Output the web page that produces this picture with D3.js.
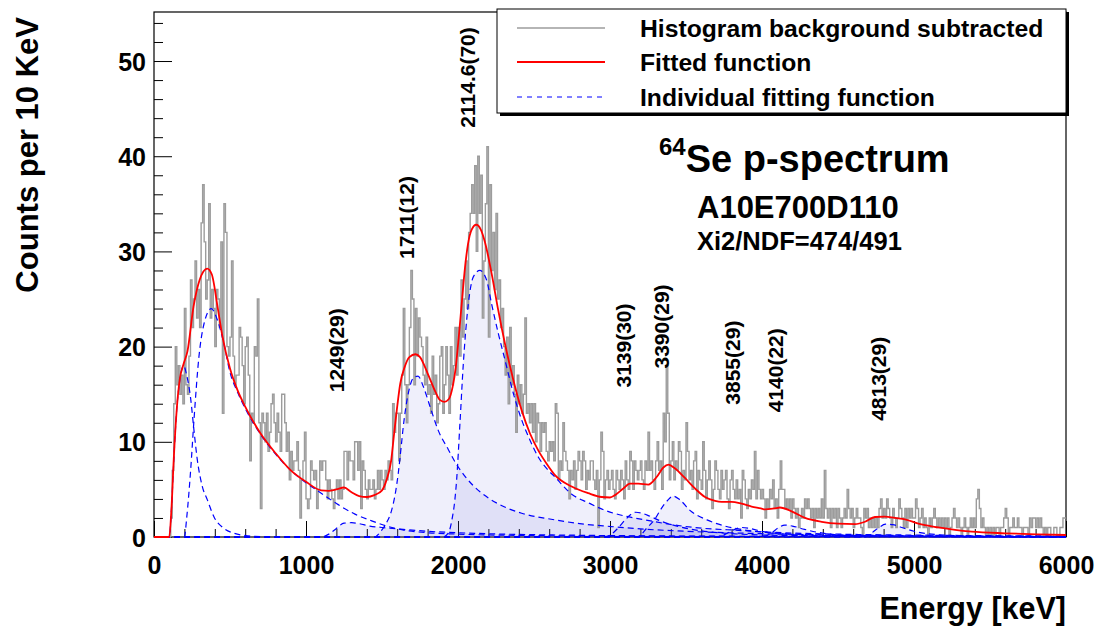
<!DOCTYPE html>
<html>
<head>
<meta charset="utf-8">
<script src="https://cdn.jsdelivr.net/npm/d3@7/dist/d3.min.js"></script>
<style>
  body { margin: 0; background: #fff; }
  svg { display: block; }
  text { font-family: "Liberation Sans", Arial, Helvetica, sans-serif; font-weight: bold; fill: #000; }
</style>
</head>
<body>
<svg id="chart" width="1100" height="626"></svg>
<script>
// ---------------- data ----------------
const binWidth = 10;           // keV per bin
const energyRange = [0, 6000]; // keV
const countRange = [0, 55.15];

// background-subtracted proton spectrum, counts per 10 keV bin (0 .. 6000 keV)
const counts = [
  0,0,0,0,0,0,0,0,0,0, 0,2,7,14,20,16,18,15,17,14, 24,16,15,19,27,22,25,29,23,26, 22,33,37,31,25,27,35,23,26,24, 20,26,25,22,31,13,35,32,20,19,
  21,29,19,16,17,17,22,21,18,14, 20,21,17,8,13,12,20,19,25,12, 3,13,12,10,13,9,11,14,15,12, 10,13,11,9,15,15,12,9,11,6, 9,7,8,8,10,7,2,6,8,11,
  4,3,4,8,7,6,7,3,5,8, 7,8,8,6,4,6,5,4,3,5, 6,4,6,4,5,9,9,6,9,8, 8,6,10,10,7,10,3,8,7,5, 4,6,5,5,6,4,5,7,5,7,
  6,5,7,6,8,7,6,14,11,13, 13,8,13,17,24,16,12,16,22,28, 25,16,24,19,23,21,20,17,16,21, 15,16,13,19,15,17,12,14,19,20, 13,16,20,17,13,20,16,18,22,17,
  22,19,27,21,25,29,24,32,34,37, 34,39,30,40,34,38,23,29,35,41, 21,37,28,32,26,34,25,27,22,24, 20,17,21,14,22,16,18,15,11,17, 14,16,13,15,23,13,14,12,14,11,
  14,10,13,12,9,12,11,12,9,8, 10,9,10,8,14,13,6,8,7,12, 9,8,7,4,7,6,8,5,7,9, 8,6,9,8,5,7,6,8,8,6, 5,7,1,6,11,9,4,6,7,5,
  6,7,5,4,7,6,5,7,6,4, 8,6,5,9,8,5,8,7,6,7, 8,6,5,8,7,11,7,8,6,5, 8,10,7,8,5,13,10,18,13,6, 8,10,6,8,7,10,9,5,7,6,
  12,9,6,7,5,8,9,4,7,6, 5,10,7,4,6,8,6,3,5,8, 7,5,4,7,5,6,7,4,3,6, 7,5,4,6,4,5,2,7,6,4, 3,5,4,6,5,9,4,7,5,4,
  5,4,2,4,3,5,4,6,3,4, 2,5,8,5,5,3,4,3,4,2, 4,3,2,3,1,2,3,2,4,3, 4,3,2,3,1,3,2,3,2,4, 2,7,3,2,3,1,3,2,3,1,
  3,2,1,2,3,2,5,3,2,3, 1,2,3,2,2,1,0,3,2,3, 1,2,1,2,1,2,1,3,4,2, 3,2,4,3,2,1,3,2,1,2, 4,3,2,1,3,1,3,2,3,2,
  2,4,3,1,2,3,1,2,1,0, 2,1,2,3,2,1,2,1,2,1, 2,1,2,0,1,2,3,2,1,2, 1,0,1,2,1,0,1,2,1,2, 1,4,5,3,1,2,1,0,1,0,
  1,0,1,0,1,1,0,1,1,2, 3,2,0,1,1,2,1,1,2,1, 1,0,1,1,1,0,2,1,2,2, 1,2,1,2,1,0,1,0,1,1, 0,0,1,1,0,0,1,1,2,2
];

// total fitted function, [energy keV, counts]
const fitTotal = [
  [0,0],[100,0],[115,3],[130,8.2],[150,13.5],[170,16.6],[195,18.2],[220,19.5],[260,24.2],[300,27],[350,28.2],
  [380,27.6],[420,24],[450,21.1],[500,17.7],[550,15.4],[600,13.7],[700,10.9],[800,8.8],[900,7.0],[1000,5.8],
  [1100,4.9],[1150,4.85],[1200,5.0],[1250,5.2],[1300,4.7],[1350,4.3],[1400,4.2],[1450,4.4],[1500,4.9],[1530,6],
  [1560,8],[1580,10.9],[1600,13.7],[1620,16.1],[1650,17.9],[1680,18.9],[1720,19.2],[1750,18.9],[1800,17.2],
  [1850,15.3],[1880,14.4],[1910,14.2],[1940,14.5],[1965,15.8],[1985,17.8],[2005,21],[2026,24.8],[2046,28.3],
  [2066,30.8],[2090,32.3],[2120,32.8],[2150,32.3],[2177,31],[2221,27.7],[2265,23.8],[2309,20.3],[2364,16.5],
  [2419,13.3],[2473,10.9],[2528,9.1],[2583,7.7],[2638,6.5],[2748,5.3],[2857,4.6],[2945,4.2],[3000,4.15],
  [3033,4.4],[3088,5.1],[3131,5.6],[3186,5.6],[3252,5.5],[3307,6.3],[3351,7.3],[3384,7.6],[3428,7.2],
  [3493,6.2],[3559,5.1],[3625,4.2],[3691,3.8],[3735,3.7],[3800,3.7],[3866,3.5],[3932,3.2],[3993,3.0],
  [4020,2.9],[4080,3.0],[4118,3.1],[4195,2.7],[4283,2.0],[4393,1.6],[4502,1.4],[4612,1.35],[4678,1.6],
  [4743,2.1],[4809,2.15],[4875,2.0],[4941,1.86],[5029,1.4],[5160,1.0],[5270,0.74],[5380,0.56],[5599,0.39],
  [5818,0.28],[6000,0.21]
];

// individual fit components, [energy keV, counts]
const compLowA = [[0,0],[100,0],[115,3],[130,8],[150,13.5],[170,16.5],[195,18],[215,17],[240,14.7],[263,11.2],
  [285,8.1],[318,5.3],[351,3.9],[395,2.1],[460,0.9],[526,0.4],[600,0.15],[700,0.05],[1000,0.01],[6000,0]];
const compLowB = [[0,0],[200,0],[215,2],[241,7],[263,12.3],[296,19],[329,22.4],[377,24],[417,22.8],[460,20.3],
  [500,17.3],[550,15.2],[600,13.5],[700,10.8],[800,8.7],[900,7.0],[1000,5.7],[1100,4.6],[1212,3.4],[1322,2.4],
  [1432,1.7],[1541,1.1],[1651,0.7],[1800,0.45],[2000,0.3],[2500,0.15],[3000,0.1],[4000,0.05],[6000,0.02]];
const comp1249 = [[0,0],[1100,0],[1150,0.3],[1200,0.9],[1250,1.45],[1300,1.5],[1350,1.4],[1420,1.15],[1500,1.0],
  [1640,0.8],[1800,0.6],[2000,0.45],[2300,0.3],[2700,0.2],[3500,0.1],[6000,0.02]];
const comp1711 = [[0,0],[1450,0],[1497,0.7],[1530,1.5],[1563,2.8],[1590,4.8],[1607,6.7],[1625,9.3],[1640,11.6],
  [1673,15.1],[1706,16.7],[1737,16.9],[1772,15.8],[1816,13.7],[1870,11.2],[1936,9.2],[1980,7.9],[2050,6.3],
  [2100,5.4],[2200,4.1],[2300,3.2],[2419,2.5],[2638,1.8],[2800,1.4],[3006,1.1],[3200,0.85],[3500,0.6],
  [4000,0.35],[5000,0.15],[6000,0.07]];
const comp2114 = [[0,0],[1900,0],[1936,0.4],[1960,1.8],[1980,4],[1991,6],[2013,12],[2035,18.2],[2068,24.5],
  [2100,27.3],[2144,28],[2188,27],[2221,24.5],[2265,21.4],[2309,18.6],[2364,15.1],[2419,12.3],[2473,10.2],
  [2528,8.4],[2583,7.2],[2638,6.3],[2748,4.5],[2857,3.6],[2967,2.8],[3099,2.2],[3230,1.8],[3406,1.3],
  [3625,0.9],[3844,0.7],[4000,0.55],[4500,0.3],[5000,0.2],[6000,0.1]];
const comp3139 = [[0,0],[2950,0],[3000,0.2],[3050,0.9],[3100,1.8],[3140,2.4],[3170,2.6],[3210,2.5],[3260,2.2],
  [3330,1.7],[3450,1.1],[3600,0.65],[3800,0.35],[4200,0.15],[6000,0.02]];
const comp3390 = [[0,0],[3180,0],[3240,0.9],[3300,2.0],[3330,2.8],[3382,3.9],[3415,4.3],[3460,3.9],[3526,2.8],
  [3638,1.8],[3745,1.2],[3900,0.7],[4100,0.4],[4400,0.2],[5000,0.08],[6000,0.02]];
const comp3855 = [[0,0],[3700,0],[3760,0.3],[3820,0.8],[3870,1.0],[3920,0.9],[4000,0.6],[4150,0.3],[4400,0.12],[6000,0.01]];
const comp4140 = [[0,0],[4000,0],[4060,0.4],[4110,1.0],[4150,1.25],[4200,1.15],[4280,0.8],[4400,0.4],[4600,0.15],[6000,0.01]];
const comp4813 = [[0,0],[4680,0],[4720,0.4],[4770,1.0],[4813,1.35],[4860,1.3],[4920,1.0],[5000,0.6],[5150,0.25],[5400,0.08],[6000,0.01]];

const openComponents = [compLowA, compLowB];
const shadedComponents = [comp1249, comp1711, comp2114, comp3139, comp3390, comp3855, comp4140, comp4813];

// peak annotations: label text, energy (keV) and height (counts) where the text starts
const peakLabels = ["1249(29)", "1711(12)", "2114.6(70)", "3139(30)", "3390(29)", "3855(29)", "4140(22)", "4813(29)"];
const peakLabelEnergy = [1249, 1711, 2114.6, 3139, 3390, 3855, 4140, 4813];
const peakLabelHeight = [15.2, 29.2, 43.0, 15.7, 17.7, 13.9, 13.1, 12.2];

const xMajorTicks = [0, 1000, 2000, 3000, 4000, 5000, 6000];
const yMajorTicks = [0, 10, 20, 30, 40, 50];

const legendItems = ["Histogram background subtracted", "Fitted function", "Individual fitting function"];

// ---------------- layout ----------------
const frame = { left: 154, right: 1066, top: 12, bottom: 537 };
const svg = d3.select("#chart");

const x = d3.scaleLinear().domain(energyRange).range([frame.left, frame.right]);
const y = d3.scaleLinear().domain(countRange).range([frame.bottom, frame.top]);

// frame (drawn first so curves lying on zero stay visible over the axis line)
svg.append("rect")
  .attr("x", frame.left).attr("y", frame.top)
  .attr("width", frame.right - frame.left).attr("height", frame.bottom - frame.top)
  .attr("fill", "none").attr("stroke", "#000").attr("stroke-width", 1.2);

svg.append("defs").append("clipPath").attr("id", "plotClip")
  .append("rect")
  .attr("x", frame.left).attr("y", frame.top)
  .attr("width", frame.right - frame.left).attr("height", frame.bottom - frame.top + 2);

const plot = svg.append("g").attr("clip-path", "url(#plotClip)");

const smoothLine = d3.line().x(d => x(d[0])).y(d => y(d[1])).curve(d3.curveMonotoneX);
const smoothArea = d3.area().x(d => x(d[0])).y0(y(0)).y1(d => y(d[1])).curve(d3.curveMonotoneX);

// shaded peak components
plot.selectAll("path.shade").data(shadedComponents).join("path")
  .attr("class", "shade")
  .attr("d", smoothArea)
  .attr("fill", "rgb(100,100,220)")
  .attr("fill-opacity", 0.1)
  .attr("stroke", "none");

// histogram (step line)
const histPoints = counts.map((c, i) => [i * binWidth, c]);
histPoints.push([energyRange[1], counts[counts.length - 1]]);
plot.append("path")
  .attr("d", d3.line().x(d => x(d[0])).y(d => y(d[1])).curve(d3.curveStepAfter)(histPoints))
  .attr("fill", "none")
  .attr("stroke", "#9c9c9c")
  .attr("stroke-width", 1.4);

// individual components (dashed)
plot.selectAll("path.comp").data(openComponents.concat(shadedComponents)).join("path")
  .attr("class", "comp")
  .attr("d", smoothLine)
  .attr("fill", "none")
  .attr("stroke", "#0000ff")
  .attr("stroke-width", 1.2)
  .attr("stroke-dasharray", "6,4");

// total fit
plot.append("path")
  .attr("d", smoothLine(fitTotal))
  .attr("fill", "none")
  .attr("stroke", "#ff0000")
  .attr("stroke-width", 1.8);

// ---------------- axes ----------------
const yMinor = d3.range(0, 55, 2).filter(v => v % 10 !== 0);
const xMinor = d3.range(0, 6001, 200).filter(v => v % 1000 !== 0);

const yAxisG = svg.append("g").attr("transform", `translate(${frame.left},0)`);
yAxisG.call(d3.axisLeft(y).tickValues(yMajorTicks).tickSize(-18).tickPadding(8).tickFormat(d3.format("d")));
svg.append("g").attr("transform", `translate(${frame.left},0)`)
  .call(d3.axisLeft(y).tickValues(yMinor).tickSize(-9).tickFormat(""));

const xAxisG = svg.append("g").attr("transform", `translate(0,${frame.bottom})`);
xAxisG.call(d3.axisBottom(x).tickValues(xMajorTicks).tickSize(-16).tickPadding(19).tickFormat(d3.format("d")));
svg.append("g").attr("transform", `translate(0,${frame.bottom})`)
  .call(d3.axisBottom(x).tickValues(xMinor).tickSize(-8).tickFormat(""));

svg.selectAll(".domain").remove();
svg.selectAll(".tick line").attr("stroke", "#000").attr("stroke-width", 1);
svg.selectAll(".tick text")
  .attr("font-size", 25)
  .attr("font-family", '"Liberation Sans", Arial, sans-serif')
  .attr("font-weight", "bold")
  .attr("fill", "#000");
yAxisG.selectAll(".tick text").attr("dy", "0.36em");
xAxisG.selectAll(".tick text").attr("dy", "0.71em");

// bring the plotted curves above the tick marks
plot.raise();

// axis titles
svg.append("text")
  .attr("x", frame.right).attr("y", 619)
  .attr("text-anchor", "end")
  .attr("font-size", 30.5)
  .text("Energy [keV]");

svg.append("text")
  .attr("transform", `translate(38,17) rotate(-90)`)
  .attr("text-anchor", "end")
  .attr("font-size", 31)
  .text("Counts per 10 KeV");

// peak labels
svg.selectAll("text.peak").data(peakLabels).join("text")
  .attr("class", "peak")
  .attr("transform", (d, i) => `translate(${x(peakLabelEnergy[i])},${y(peakLabelHeight[i])}) rotate(-90)`)
  .attr("font-size", 21)
  .text(d => d);

// spectrum info
const title = svg.append("text").attr("x", 659).attr("y", 172);
title.append("tspan").attr("font-size", 24).attr("dy", -17).text("64");
title.append("tspan").attr("font-size", 38).attr("dy", 17).text("Se p-spectrum");

svg.append("text").attr("x", 697).attr("y", 218).attr("font-size", 31).text("A10E700D110");
svg.append("text").attr("x", 697).attr("y", 250).attr("font-size", 25.5).text("Xi2/NDF=474/491");

// ---------------- legend ----------------
const legend = { left: 497, top: 9, right: 1066, bottom: 113 };
svg.append("rect")
  .attr("x", legend.left + 3).attr("y", legend.top + 3)
  .attr("width", legend.right - legend.left).attr("height", legend.bottom - legend.top)
  .attr("fill", "#000");
svg.append("rect")
  .attr("x", legend.left).attr("y", legend.top)
  .attr("width", legend.right - legend.left).attr("height", legend.bottom - legend.top)
  .attr("fill", "#fff").attr("stroke", "#000").attr("stroke-width", 1);

const legendStyles = [
  { stroke: "#9c9c9c", width: 1.4, dash: null },
  { stroke: "#ff0000", width: 1.8, dash: null },
  { stroke: "#0000ff", width: 1.1, dash: "5,5" }
];
const rowY = [28, 62, 97];
legendItems.forEach((label, i) => {
  svg.append("line")
    .attr("x1", 517).attr("x2", 605)
    .attr("y1", rowY[i]).attr("y2", rowY[i])
    .attr("stroke", legendStyles[i].stroke)
    .attr("stroke-width", legendStyles[i].width)
    .attr("stroke-dasharray", legendStyles[i].dash);
  svg.append("text")
    .attr("x", 640).attr("y", rowY[i])
    .attr("dy", "0.36em")
    .attr("font-size", 24.7)
    .text(label);
});
</script>
</body>
</html>
